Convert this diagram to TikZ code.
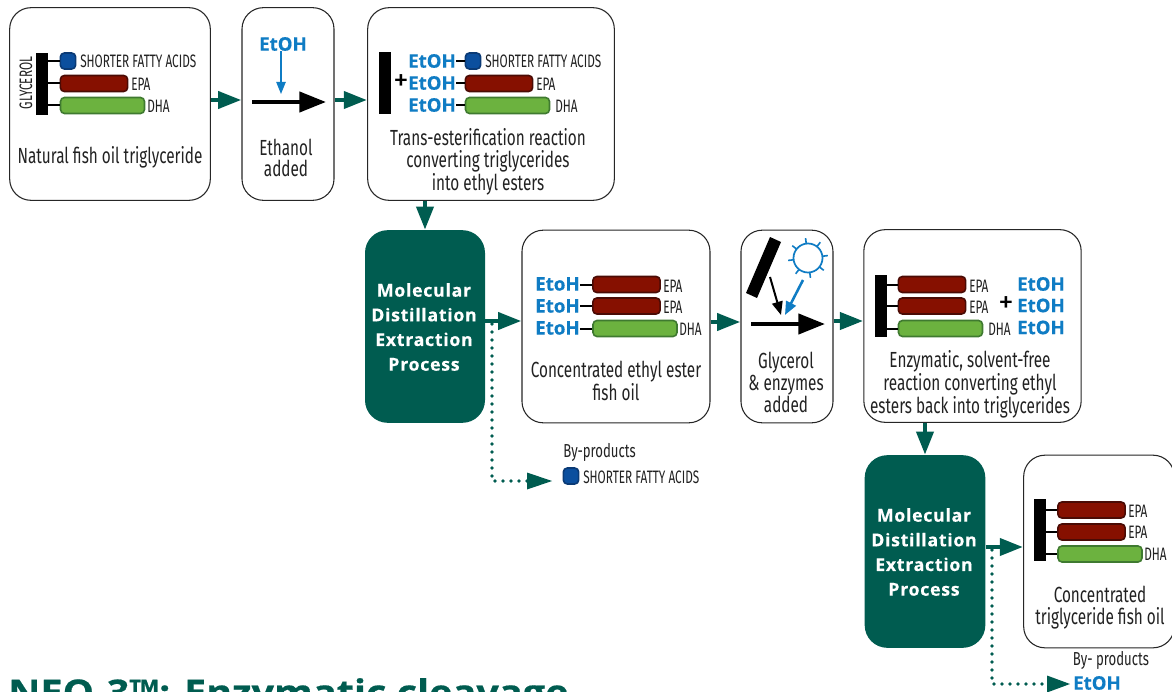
\documentclass[tikz,border=0pt]{standalone}
\usepackage{fontspec}
\usetikzlibrary{arrows.meta,calc}
\newfontfamily\condf[FakeStretch=0.70]{Fira Sans}
\newfontfamily\labf[FakeStretch=0.655]{Fira Sans}
\newfontfamily\plainf{Fira Sans}
\newfontfamily\boldf[FakeBold=0.5]{Open Sans Bold}
\newfontfamily\titlef[FakeBold=0.5,FakeStretch=1.12]{Open Sans Bold}
\newfontfamily\spacedf[LetterSpace=4,FakeBold=0.3]{Open Sans Bold}
\definecolor{teal5}{HTML}{005C50}
\definecolor{etblue}{HTML}{0F7CC4}
\definecolor{txt}{HTML}{222222}
\definecolor{redf}{HTML}{861000}
\definecolor{redd}{HTML}{4A0B05}
\definecolor{grnf}{HTML}{6CB23F}
\definecolor{grnd}{HTML}{3F7A30}
\definecolor{bluf}{HTML}{0B4F9E}
\definecolor{blud}{HTML}{0A3A75}
\tikzset{
 u/.style={x=0.75pt,y=-0.75pt},
 card/.style={draw=black!85,line width=0.8pt,rounded corners=16pt,fill=white,inner sep=0pt},
 molbox/.style={fill=teal5,rounded corners=17pt,inner sep=0pt},
 flow/.style={draw=teal5,line width=3.6pt,-{Triangle[length=17.5pt,width=12.5pt]},shorten >=0pt},
 dotflow/.style={draw=teal5,line width=2.9pt,line cap=round,dash pattern=on 0pt off 6pt},
 react/.style={draw=black,line width=3.2pt,-{Triangle[length=20pt,width=15pt]}},
 bar/.style={fill=black,inner sep=0pt,minimum width=9pt,minimum height=46.5pt},
 link/.style={draw=black,line width=1.5pt},
 pillr/.style={fill=redf,draw=redd,line width=1.2pt,rounded corners=3pt,inner sep=0pt,minimum height=12pt,minimum width=50.5pt},
 pillg/.style={fill=grnf,draw=grnd,line width=1.2pt,rounded corners=3pt,inner sep=0pt,minimum height=12pt,minimum width=63pt},
 pillb/.style={fill=bluf,draw=blud,line width=1.2pt,rounded corners=3pt,inner sep=0pt,minimum height=12pt,minimum width=11.5pt},
 lab/.style={font=\labf\fontsize{13.5}{14}\selectfont,text=txt,inner sep=0pt,anchor=west},
 body/.style={font=\condf\fontsize{16.4}{16.2}\selectfont,text=txt,inner sep=0pt,align=center},
 byp/.style={font=\condf\fontsize{14.1}{16}\selectfont,text=txt,inner sep=0pt},
 et/.style={font=\boldf\fontsize{14}{16}\selectfont,text=etblue,inner sep=0pt},
 plussign/.style={font=\plainf\fontsize{23}{23}\selectfont,text=black,inner sep=0pt},
 moltext/.style={font=\spacedf\fontsize{13.3}{18.5}\selectfont,text=white,align=center,inner sep=0pt},
}
\begin{document}
\begin{tikzpicture}[u]
\useasboundingbox (0,0) rectangle (1172,692);
\clip (0,0) rectangle (1172,692);
% cards: centre, width, height
\node[card,minimum width=150.5pt,minimum height=144.5pt] (A) at (110,104) {};
\node[card,minimum width=69pt,minimum height=144.5pt] (B) at (288,104) {};
\node[card,minimum width=185pt,minimum height=144.5pt] (C) at (491,104) {};
\node[molbox,minimum width=90pt,minimum height=144.5pt] (M1) at (425,326.5) {};
\node[card,minimum width=141pt,minimum height=144.5pt] (D) at (616,326.5) {};
\node[card,minimum width=69pt,minimum height=144.5pt] (E) at (787,326.5) {};
\node[card,minimum width=163pt,minimum height=144.5pt] (F) at (972.5,326) {};
\node[molbox,minimum width=90.5pt,minimum height=144.5pt] (M2) at (925,551.5) {};
\node[card,minimum width=113pt,minimum height=144.5pt] (G) at (1099,551.5) {};
% flow arrows
\draw[flow] (A.east |- 0,100) -- (B.west |- 0,100);
\draw[flow] (B.east |- 0,100) -- (C.west |- 0,100);
\draw[flow] (M1.north |- C.south) -- (M1.north);
\draw[flow] (M1.east |- 0,321) -- (D.west |- 0,321);
\draw[flow] (D.east |- 0,322) -- (E.west |- 0,322);
\draw[flow] (E.east |- 0,321) -- (F.west |- 0,321);
\draw[flow] (M2.north |- F.south) -- (M2.north);
\draw[flow] (M2.east |- 0,547) -- (G.west |- 0,547);
% titles in dark boxes
\node[moltext] (M1t) at (424,327) {Molecular\\Distillation\\Extraction\\Process};
\node[moltext] (M2t) at (924,552) {Molecular\\Distillation\\Extraction\\Process};
% card A
\node[bar] (Abar) at (42,84) {};
\node[pillb] (A1) at (68,61) {};
\node[pillr] (A2) at (94,83.5) {};
\node[pillg] (A3) at (102.5,105.5) {};
\draw[link] (Abar.east |- A1) -- (A1.west);
\draw[link] (Abar.east |- A2) -- (A2.west);
\draw[link] (Abar.east |- A3) -- (A3.west);
\node[lab] (A1l) at (80,61.5) {SHORTER FATTY ACIDS};
\node[lab] (A2l) at (131,84.5) {EPA};
\node[lab] (A3l) at (147,106.5) {DHA};
\node[lab,anchor=center,rotate=90] (Agl) at (26,83) {GLYCEROL};
\node[body] (At) at (110,157) {Natural fish oil triglyceride};
% card B
\node[et] (Be) at (283,44) {EtOH};
\coordinate (Bh) at (281,94);
\draw[draw=etblue,line width=1pt,-{Triangle[length=9pt,width=7pt]}] (Be.south -| Bh) -- (Bh);
\coordinate (Br1) at (252,102); \coordinate (Br2) at (326,102);
\draw[react] (Br1) -- (Br2);
\node[body] (Bt) at (286,158) {Ethanol\\added};
% card C
\node[bar] (Cbar) at (385,83.5) {};
\node[et] (C1e) at (432,61) {EtOH};
\node[et] (C2e) at (432,83) {EtOH};
\node[et] (C3e) at (432,105) {EtOH};
\node[pillb] (C1) at (473,61) {};
\node[pillr] (C2) at (499,83.5) {};
\node[pillg] (C3) at (507.5,105.5) {};
\draw[link] (C1e.east |- C1) -- (C1.west);
\draw[link] (C2e.east |- C2) -- (C2.west);
\draw[link] (C3e.east |- C3) -- (C3.west);
\node[plussign] (Cp) at (401,83) {+};
\node[lab] (C1l) at (485,61.5) {SHORTER FATTY ACIDS};
\node[lab] (C2l) at (536,84.5) {EPA};
\node[lab] (C3l) at (555,106.5) {DHA};
\node[body] (Ct) at (488,162) {Trans-esterification reaction\\converting triglycerides\\into ethyl esters};
% card D
\node[et] (D1e) at (557.5,284) {EtoH};
\node[et] (D2e) at (557.5,306) {EtoH};
\node[et] (D3e) at (557.5,328) {EtoH};
\node[pillr] (D1) at (626.5,284.5) {};
\node[pillr] (D2) at (626.5,306) {};
\node[pillg] (D3) at (635,328.5) {};
\draw[link] (D1e.east |- D1) -- (D1.west);
\draw[link] (D2e.east |- D2) -- (D2.west);
\draw[link] (D3e.east |- D3) -- (D3.west);
\node[lab] (D1l) at (663,286) {EPA};
\node[lab] (D2l) at (663,307) {EPA};
\node[lab] (D3l) at (679,329) {DHA};
\node[body] (Dt) at (616,380.5) {Concentrated ethyl ester\\fish oil};
% byproducts 1
\coordinate (J1s) at (492,324); \coordinate (J1c) at (492,481);
\draw[dotflow] (J1s) -- (J1c) -- (528,481);
\fill[teal5] (527,472.5) -- (552,481) -- (527,489.5) -- cycle;
\node[byp,anchor=west] (By1) at (563,452) {By-products};
\node[pillb] (Pb) at (571,476) {};
\node[lab] (Pbl) at (583,477) {SHORTER FATTY ACIDS};
% card E
\fill[black] (770,237) -- (781,242) -- (757,298) -- (746,293) -- cycle;
\coordinate (E1) at (770,277); \coordinate (E2) at (781,315);
\draw[draw=black,line width=1.5pt,-{Triangle[length=10pt,width=8pt]}] (E1) -- (E2);
\coordinate (E3) at (803,280); \coordinate (E4) at (785,315);
\draw[draw=etblue,line width=1.9pt,-{Triangle[length=10pt,width=8pt]}] (E3) -- (E4);
\coordinate (Sun) at (808,258);
\draw[etblue,line width=1.3pt] (Sun) circle [radius=14.5];
\foreach \a in {7,52,97,142,187,232,277,322}
 \draw[etblue,line width=1.2pt] ($(Sun)+(\a:14.5 and -14.5)$) -- ($(Sun)+(\a:20 and -20)$);
\coordinate (Er1) at (751,324); \coordinate (Er2) at (825,324);
\draw[react] (Er1) -- (Er2);
\node[body] (Et) at (786,382.5) {Glycerol\\\& enzymes\\added};
% card F
\node[bar] (Fbar) at (881,305.5) {};
\node[pillr] (F1) at (932,284.5) {};
\node[pillr] (F2) at (932,306) {};
\node[pillg] (F3) at (940.5,328.5) {};
\draw[link] (Fbar.east |- F1) -- (F1.west);
\draw[link] (Fbar.east |- F2) -- (F2.west);
\draw[link] (Fbar.east |- F3) -- (F3.west);
\node[lab] (F1l) at (969,286) {EPA};
\node[lab] (F2l) at (969,307) {EPA};
\node[lab] (F3l) at (988,329.5) {DHA};
\node[plussign] (Fp) at (1006,305) {+};
\node[et] (F1e) at (1041,284) {EtOH};
\node[et] (F2e) at (1041,305.5) {EtOH};
\node[et] (F3e) at (1041,327.5) {EtOH};
\node[body] (Ft) at (970,384.5) {Enzymatic, solvent-free\\reaction converting ethyl\\esters back into triglycerides};
% card G
\node[bar] (Gbar) at (1040,530) {};
\node[pillr] (G1) at (1091.5,510) {};
\node[pillr] (G2) at (1091.5,532) {};
\node[pillg] (G3) at (1100,554) {};
\draw[link] (Gbar.east |- G1) -- (G1.west);
\draw[link] (Gbar.east |- G2) -- (G2.west);
\draw[link] (Gbar.east |- G3) -- (G3.west);
\node[lab] (G1l) at (1128,511) {EPA};
\node[lab] (G2l) at (1128,532) {EPA};
\node[lab] (G3l) at (1144,554) {DHA};
\node[body] (Gt) at (1100,607.5) {Concentrated\\triglyceride fish oil};
% byproducts 2
\coordinate (J2s) at (992,550); \coordinate (J2c) at (992,684);
\draw[dotflow] (J2s) -- (J2c) -- (1047,684);
\fill[teal5] (1047,675.5) -- (1070,684) -- (1047,692.5) -- cycle;
\node[byp] (By2) at (1111,660) {By- products};
\node[et] (Ge) at (1097,683) {EtOH};
% title, cut by the lower edge as in the reference
\node[font=\fontsize{26.5}{30}\selectfont\titlef,text=teal5,inner sep=0pt,anchor=base west] (Title) at (8,705) {NEO-3™: Enzymatic cleavage};
\end{tikzpicture}
\end{document}
